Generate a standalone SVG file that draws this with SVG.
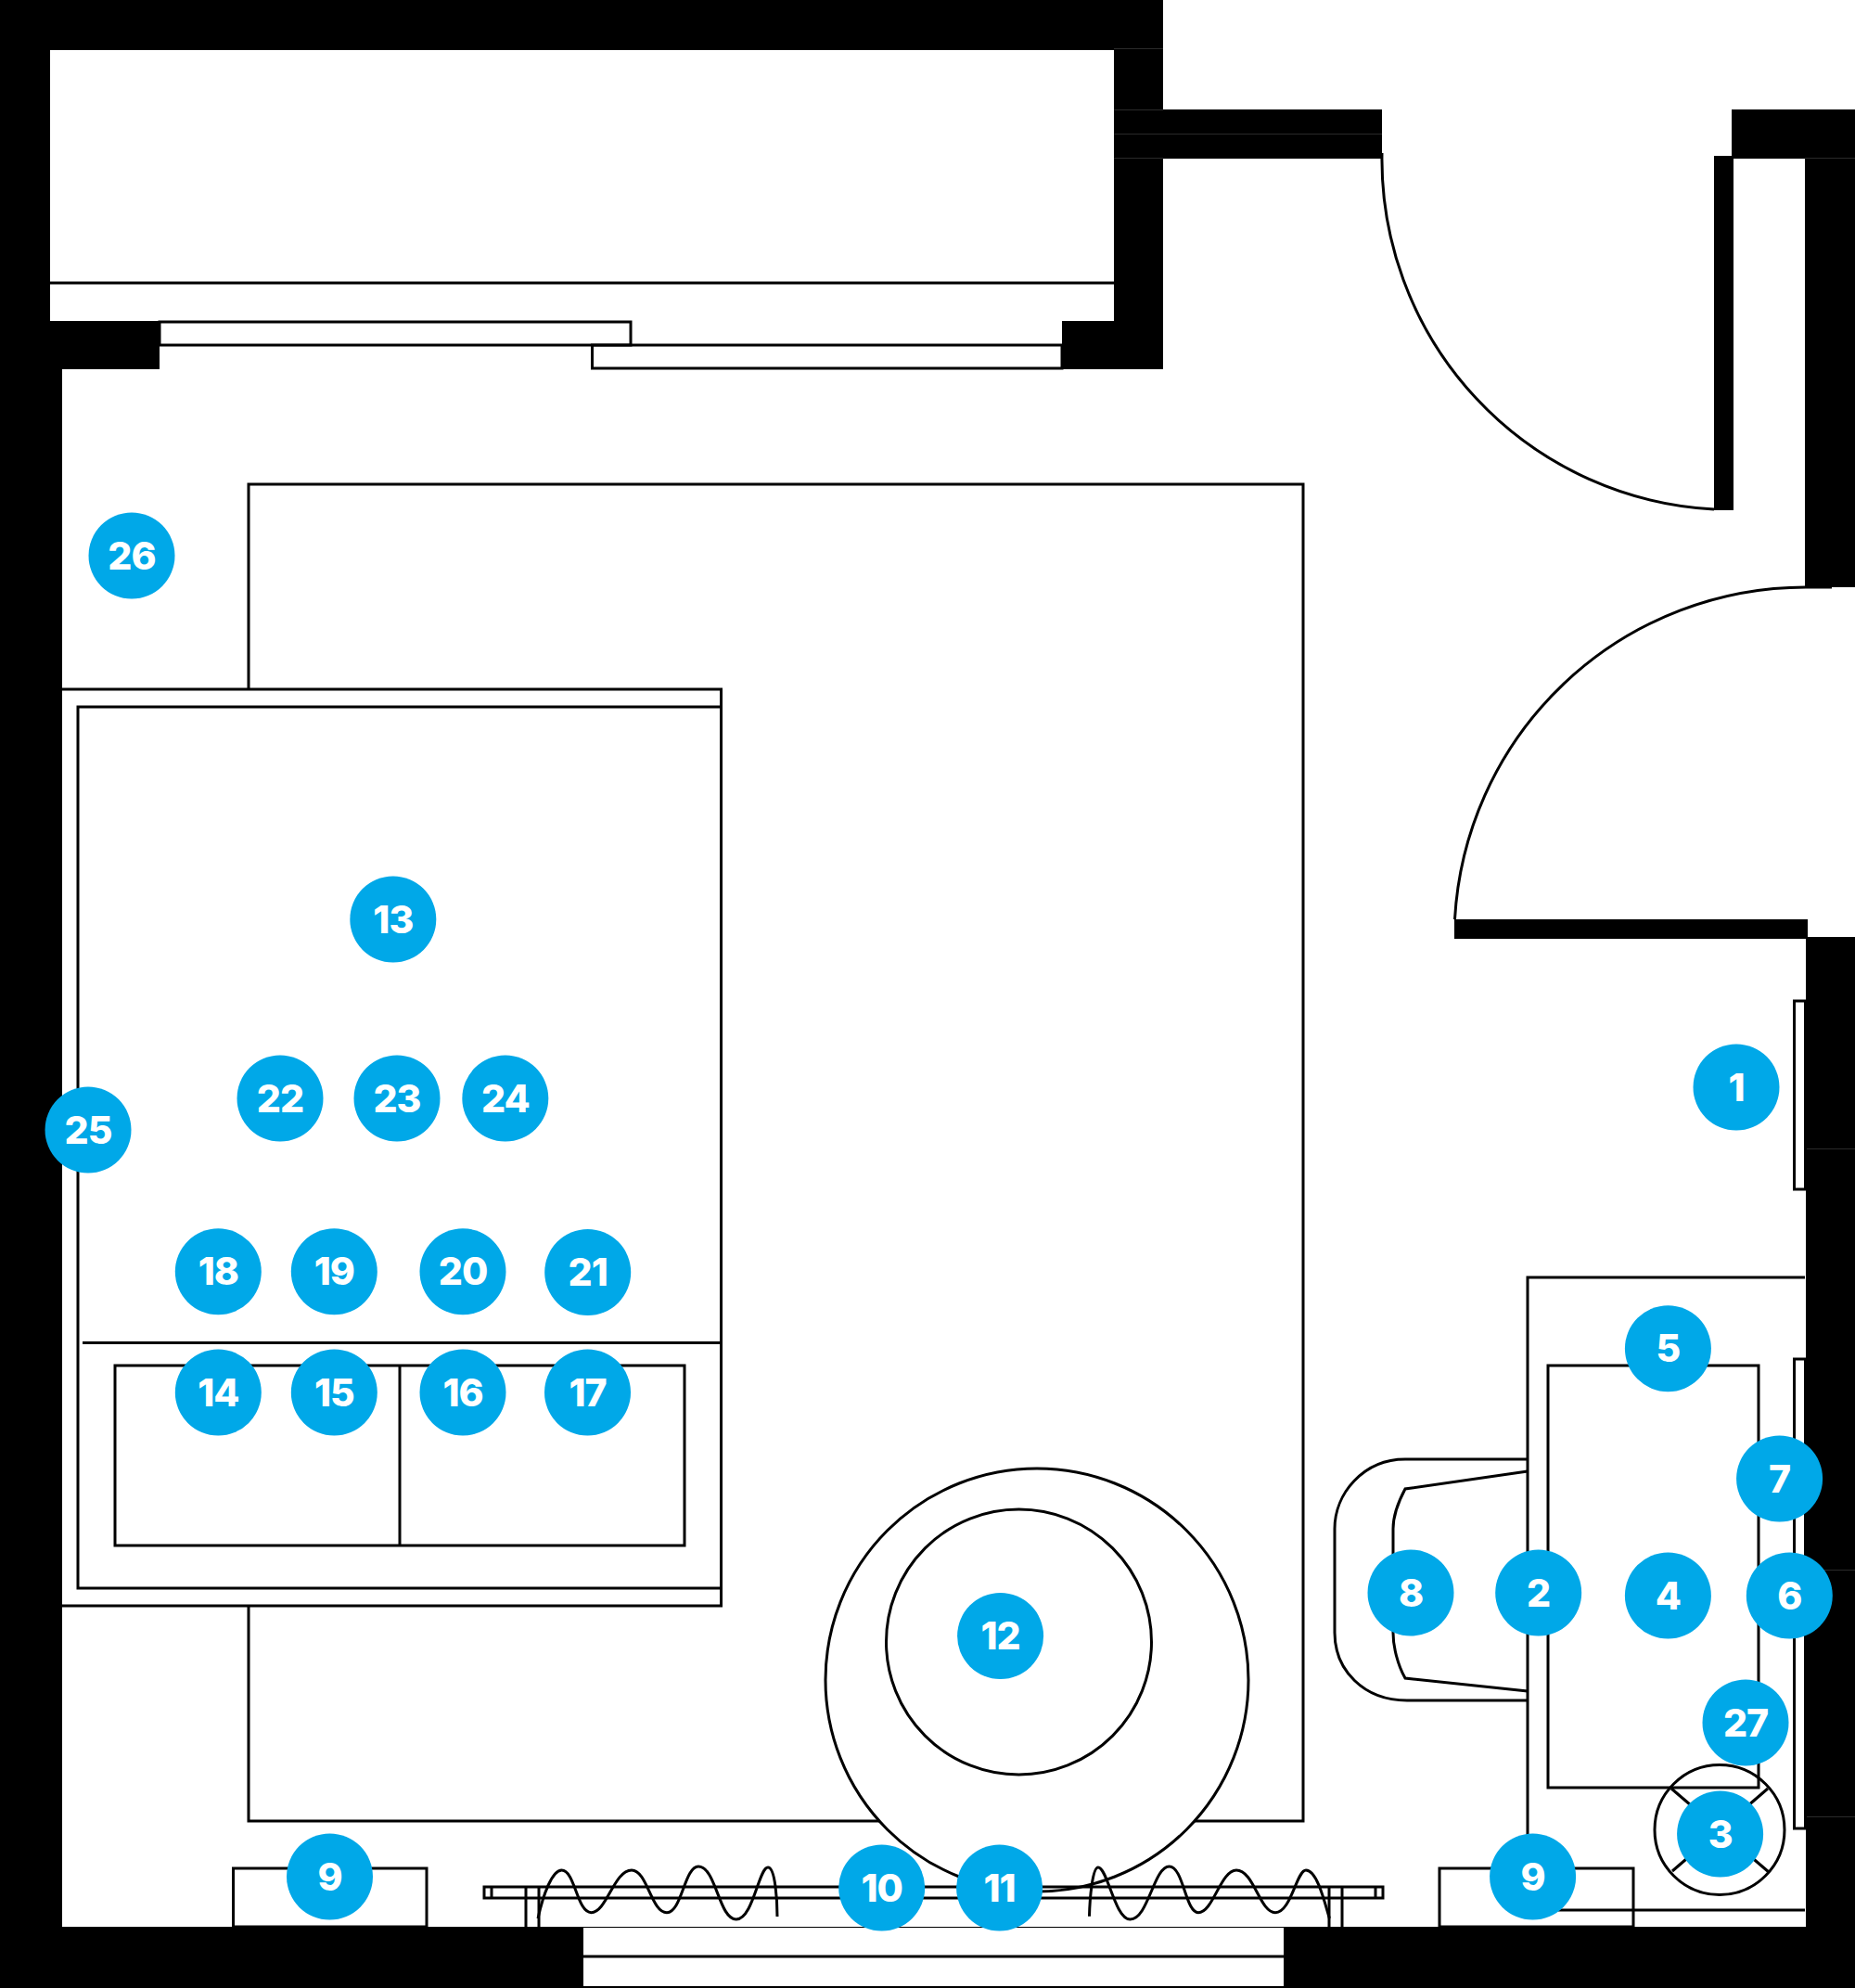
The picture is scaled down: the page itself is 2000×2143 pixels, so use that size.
<svg xmlns="http://www.w3.org/2000/svg" width="2000" height="2143" viewBox="0 0 2000 2143">
<style>
.wall{fill:#000;stroke:none}
.ln{fill:none;stroke:#000;stroke-width:3}
.wh{fill:#fff;stroke:#000;stroke-width:3}
.seam{fill:none;stroke:#2a2a2a;stroke-width:1}
.m{fill:#00a8e8}
.t{fill:#fff;font-family:"Inter","Liberation Sans",sans-serif;font-weight:800;font-size:41px;text-anchor:middle;letter-spacing:-1px}
</style>
<rect width="2000" height="2143" fill="#fff"/>
<g id="walls">
<rect class="wall" x="0" y="0" width="1254" height="54"/>
<rect class="wall" x="0" y="0" width="54" height="398"/>
<rect class="wall" x="0" y="346" width="172" height="52"/>
<rect class="wall" x="0" y="398" width="67" height="1745"/>
<rect class="wall" x="1201" y="0" width="53" height="398"/>
<rect class="wall" x="1145" y="346" width="109" height="52"/>
<rect class="wall" x="1201" y="118" width="289" height="53"/>
<rect class="wall" x="1867" y="118" width="133" height="53"/>
<rect class="wall" x="1946" y="118" width="54" height="515"/>
<rect class="wall" x="1848" y="168" width="21" height="382"/>
<rect class="wall" x="1568" y="991" width="381" height="21"/>
<rect class="wall" x="1947" y="1010" width="53" height="1133"/>
<rect class="wall" x="0" y="2077" width="2000" height="66"/>
<path class="seam" d="M1201 52.500H1254M1201 118.500H1254M1201 144.500H1490M1201 170.500H1254M1946 170.500H2000M1947 1238.500H2000M1947 1692.500H2000M1947 1958.500H2000"/>
</g>
<g id="windows">
<rect x="629" y="2078" width="755" height="63" fill="#fff"/>
<rect class="wall" x="629" y="2107.500" width="755" height="3"/>
<rect class="ln" x="172" y="347" width="508" height="25"/>
<rect class="ln" x="638.500" y="372" width="506.500" height="25"/>
<path class="ln" d="M54 305H1201"/>
</g>
<g id="doors">
<path class="ln" d="M1490 165A378 378 0 0 0 1848 549"/>
<path class="ln" d="M1568.500 991A379 379 0 0 1 1947 633H1975"/>
</g>
<g id="rug">
<path class="ln" d="M268 743V522H1405V1963H268V1731"/>
</g>
<g id="bed">
<path class="ln" d="M67 743H777.500V1731H67"/>
<rect class="ln" x="84" y="762" width="693.500" height="950"/>
<path class="ln" d="M89 1447.500H777.500"/>
<rect class="ln" x="124" y="1472" width="614" height="194"/>
<path class="ln" d="M431 1472V1666"/>
</g>
<g id="pouf">
<circle class="wh" cx="1118" cy="1811" r="228"/>
<circle class="wh" cx="1098.500" cy="1770" r="143"/>
</g>
<g id="nightstands">
<rect class="ln" x="251.500" y="2014" width="208.500" height="63"/>
<rect class="ln" x="1552" y="2014" width="209" height="63"/>
</g>
<g id="curtain">
<rect class="ln" x="522" y="2034" width="969" height="12"/>
<path class="ln" d="M530 2034V2046M1483 2034V2046M567 2034V2077M581 2034V2077M1433 2034V2077M1447 2034V2077"/>
<path class="ln" d="M580 2068C586 2040 596 2016 605.600 2016C620 2016 622 2061.700 637.500 2061.700C654 2061.700 662 2016 681 2016C698 2016 702 2061.700 719 2061.700C735 2061.700 738 2012 753 2012C772 2012 775 2069 793.800 2069C812 2069 818 2013 828 2013C836 2013 838 2050 838 2066"/>
<path class="ln" d="M1174.500 2065.700C1175 2045 1178 2013 1184 2013C1194 2013 1202 2069 1218.500 2069C1238 2069 1244 2012 1260.600 2012C1276 2012 1278 2061.700 1292 2061.700C1308 2061.700 1316 2016 1333 2016C1352 2016 1358 2061.700 1375 2061.700C1392 2061.700 1398 2016 1408 2016C1420 2016 1428 2050 1433.400 2068"/>
</g>
<g id="wall-unit">
<rect class="ln" x="1934.500" y="1079" width="12" height="203"/>
</g>
<g id="desk">
<path class="ln" d="M1946 1377H1647V2059M1680 2059H1946"/>
<rect class="ln" x="1669" y="1472" width="227" height="455"/>
<rect class="ln" x="1934.500" y="1465" width="12" height="506"/>
<path class="ln" d="M1647 1573H1515C1470 1573 1439 1610 1439 1648V1760C1439 1800 1470 1833 1517 1833H1647"/>
<path class="ln" d="M1647 1586L1515 1605C1507 1620 1502 1635 1502 1648V1760C1502 1775 1507 1795 1515 1809L1647 1823"/>
<circle class="ln" cx="1854" cy="1972.500" r="70"/>
<path class="ln" d="M1802 1928L1907 2018M1906 1928L1803 2017"/>
</g>
<g id="n1"><circle class="m" cx="1872" cy="1172" r="46.500"/><text class="t" x="1872" y="1186.500">1</text></g>
<g id="n2"><circle class="m" cx="1658.700" cy="1717" r="46.500"/><text class="t" x="1658.700" y="1731.500">2</text></g>
<g id="n3"><circle class="m" cx="1854.600" cy="1977" r="46.500"/><text class="t" x="1854.600" y="1991.500">3</text></g>
<g id="n4"><circle class="m" cx="1798.400" cy="1720" r="46.500"/><text class="t" x="1798.400" y="1734.500">4</text></g>
<g id="n5"><circle class="m" cx="1798.400" cy="1453.700" r="46.500"/><text class="t" x="1798.400" y="1468.200">5</text></g>
<g id="n6"><circle class="m" cx="1929.300" cy="1720" r="46.500"/><text class="t" x="1929.300" y="1734.500">6</text></g>
<g id="n7"><circle class="m" cx="1918.600" cy="1594" r="46.500"/><text class="t" x="1918.600" y="1608.500">7</text></g>
<g id="n8"><circle class="m" cx="1521" cy="1717" r="46.500"/><text class="t" x="1521" y="1731.500">8</text></g>
<g id="n9a"><circle class="m" cx="355.500" cy="2023" r="46.500"/><text class="t" x="355.500" y="2037.500">9</text></g>
<g id="n9b"><circle class="m" cx="1652.600" cy="2023" r="46.500"/><text class="t" x="1652.600" y="2037.500">9</text></g>
<g id="n10"><circle class="m" cx="950.700" cy="2035" r="46.500"/><text class="t" x="950.700" y="2049.500">10</text></g>
<g id="n11"><circle class="m" cx="1077.600" cy="2035" r="46.500"/><text class="t" x="1077.600" y="2049.500">11</text></g>
<g id="n12"><circle class="m" cx="1078.600" cy="1763.500" r="46.500"/><text class="t" x="1078.600" y="1778">12</text></g>
<g id="n13"><circle class="m" cx="423.800" cy="991" r="46.500"/><text class="t" x="423.800" y="1005.500">13</text></g>
<g id="n14"><circle class="m" cx="235.300" cy="1501" r="46.500"/><text class="t" x="235.300" y="1515.500">14</text></g>
<g id="n15"><circle class="m" cx="360.300" cy="1501" r="46.500"/><text class="t" x="360.300" y="1515.500">15</text></g>
<g id="n16"><circle class="m" cx="499" cy="1501" r="46.500"/><text class="t" x="499" y="1515.500">16</text></g>
<g id="n17"><circle class="m" cx="633.500" cy="1501" r="46.500"/><text class="t" x="633.500" y="1515.500">17</text></g>
<g id="n18"><circle class="m" cx="235.300" cy="1370.800" r="46.500"/><text class="t" x="235.300" y="1385">18</text></g>
<g id="n19"><circle class="m" cx="360.300" cy="1370.800" r="46.500"/><text class="t" x="360.300" y="1385">19</text></g>
<g id="n20"><circle class="m" cx="499" cy="1370.800" r="46.500"/><text class="t" x="499" y="1385">20</text></g>
<g id="n21"><circle class="m" cx="633.700" cy="1371.500" r="46.500"/><text class="t" x="633.700" y="1386">21</text></g>
<g id="n22"><circle class="m" cx="302" cy="1184" r="46.500"/><text class="t" x="302" y="1198.500">22</text></g>
<g id="n23"><circle class="m" cx="428" cy="1184" r="46.500"/><text class="t" x="428" y="1198.500">23</text></g>
<g id="n24"><circle class="m" cx="544.800" cy="1184" r="46.500"/><text class="t" x="544.800" y="1198.500">24</text></g>
<g id="n25"><circle class="m" cx="95" cy="1218" r="46.500"/><text class="t" x="95" y="1232.500">25</text></g>
<g id="n26"><circle class="m" cx="142" cy="599" r="46.500"/><text class="t" x="142" y="613.500">26</text></g>
<g id="n27"><circle class="m" cx="1882" cy="1857" r="46.500"/><text class="t" x="1882" y="1871.500">27</text></g>
</svg>
